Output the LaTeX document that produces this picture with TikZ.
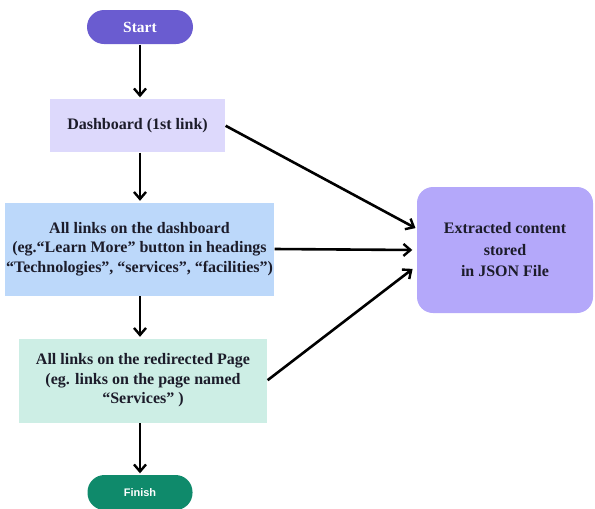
\documentclass[tikz,border=0pt]{standalone}
\usepackage{fontspec}
\setmainfont{Liberation Serif}
\newfontfamily\finfont{Liberation Sans}
\usetikzlibrary{arrows.meta}
\definecolor{startc}{HTML}{6A5CD0}
\definecolor{dashc}{HTML}{DDD9FC}
\definecolor{linksc}{HTML}{BCD8FA}
\definecolor{redirc}{HTML}{CDEEE5}
\definecolor{finc}{HTML}{0F8A6B}
\definecolor{jsonc}{HTML}{B4A8FA}
\definecolor{txtc}{HTML}{1C1C2A}
\tikzset{
  boxbase/.style={align=center, font=\bfseries\fontsize{16pt}{19.5pt}\selectfont, text=txtc, inner sep=0pt},
  pill/.style={rounded corners=17pt, inner sep=0pt, text=white},
  conn/.style={line width=2.6pt, -{Straight Barb[length=7pt,width=12pt,line width=2.4pt]}, shorten >=1.5pt, shorten <=0.5pt},
}
\begin{document}
\begin{tikzpicture}[x=1pt,y=-1pt]
\useasboundingbox (0,0) rectangle (595,509);
% nodes
\node[pill, fill=startc, minimum width=106pt, minimum height=34pt, font=\bfseries\fontsize{15.5pt}{17pt}\selectfont] (start) at (140,27) {Start};
\node[boxbase, fill=dashc, minimum width=175pt, minimum height=53pt] (dash) at (137.5,125.5) {Dashboard (1st link)};
\node[boxbase, fill=linksc, minimum width=269pt, minimum height=93pt] (links) at (139.5,249) {All links on the dashboard\\(eg.“Learn More” button in headings\\“Technologies”, “services”, “facilities”)};
\node[boxbase, fill=redirc, minimum width=248pt, minimum height=84pt] (redir) at (143,380.5) {All links on the redirected Page\\(eg. links on the page named\\“Services” )};
\node[pill, fill=finc, minimum width=105pt, minimum height=35pt, font=\finfont\bfseries\fontsize{11pt}{13pt}\selectfont] (finish) at (140,492.5) {Finish};
\node[boxbase, fill=jsonc, rounded corners=16pt, minimum width=176pt, minimum height=126pt, font=\bfseries\fontsize{16pt}{21.5pt}\selectfont] (json) at (505,250) {Extracted content\\stored\\in JSON File};
% connectors
\draw[conn] (start.south) -- (start.south |- dash.north);
\draw[conn] (start.south |- dash.south) -- (start.south |- links.north);
\draw[conn] (start.south |- links.south) -- (start.south |- redir.north);
\draw[conn] (start.south |- redir.south) -- (finish.north);
\draw[conn] (dash.east) -- ([yshift=-42pt]json.north west);
\draw[conn] (links.east) -- ([xshift=-3pt]json.west);
\draw[conn] (redir.east) -- ([xshift=-3pt,yshift=-18pt]json.west);
\end{tikzpicture}
\end{document}
